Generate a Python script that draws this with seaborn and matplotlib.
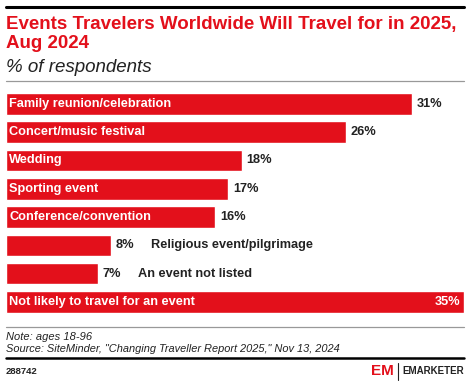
import pandas as pd
import matplotlib.pyplot as plt
import matplotlib.lines as mlines
import seaborn as sns

# Data
events = [
    "Family reunion/celebration",
    "Concert/music festival",
    "Wedding",
    "Sporting event",
    "Conference/convention",
    "Religious event/pilgrimage",
    "An event not listed",
    "Not likely to travel for an event",
]
shares = [31, 26, 18, 17, 16, 8, 7, 35]
# labels that sit outside the bar (bar too short)
outside = ["Religious event/pilgrimage", "An event not listed"]

RED = "#E3101B"

df = pd.DataFrame({"event": events, "share": shares})

sns.set_style("white")
plt.rcParams["font.family"] = ["Liberation Sans", "DejaVu Sans"]

fig = plt.figure(figsize=(4.7, 3.83), dpi=100)
W, H = 470, 383

def fx(x):
    return x / W

def fy(y):
    return 1 - y / H

ax = fig.add_axes([fx(6), fy(316), fx(464) - fx(6), fy(89.8) - fy(316)])
sns.barplot(data=df, x="share", y="event", orient="h", color=RED,
            width=0.76, saturation=1, ax=ax)
ax.set_xlim(0, 35)
ax.set_ylim(7.5, -0.5)
ax.axis("off")

FS = 9.2
for i, (name, val) in enumerate(zip(events, shares)):
    if name in outside:
        ax.text(val + 0.35, i, f"{val}%", va="center", ha="left",
                fontsize=FS, fontweight="bold", color="#222222")
        ax.text(val + 3.05, i, name, va="center", ha="left",
                fontsize=FS, fontweight="bold", color="#222222")
    elif val == max(shares):
        ax.text(0.25, i, name, va="center", ha="left",
                fontsize=FS, fontweight="bold", color="white")
        ax.text(val - 0.25, i, f"{val}%", va="center", ha="right",
                fontsize=FS, fontweight="bold", color="white")
    else:
        ax.text(0.25, i, name, va="center", ha="left",
                fontsize=FS, fontweight="bold", color="white")
        ax.text(val + 0.35, i, f"{val}%", va="center", ha="left",
                fontsize=FS, fontweight="bold", color="#222222")

# header
fig.add_artist(mlines.Line2D([fx(6), fx(464)], [fy(7), fy(7)], color="black", lw=2.2))
fig.text(fx(6), fy(25), "Events Travelers Worldwide Will Travel for in 2025,",
         color=RED, fontsize=13.5, fontweight="bold", va="center", ha="left")
fig.text(fx(6), fy(44), "Aug 2024",
         color=RED, fontsize=13.5, fontweight="bold", va="center", ha="left")
fig.text(fx(6), fy(67), "% of respondents",
         color="#222222", fontsize=13.5, style="italic", va="center", ha="left")
fig.add_artist(mlines.Line2D([fx(6), fx(464)], [fy(81), fy(81)], color="#999999", lw=0.9))

# footer
fig.add_artist(mlines.Line2D([fx(6), fx(464)], [fy(327), fy(327)], color="#999999", lw=0.9))
fig.text(fx(6), fy(337), "Note: ages 18-96", fontsize=8, style="italic",
         color="#222222", va="center", ha="left")
fig.text(fx(6), fy(349), 'Source: SiteMinder, "Changing Traveller Report 2025," Nov 13, 2024',
         fontsize=7.9, style="italic", color="#222222", va="center", ha="left")
fig.add_artist(mlines.Line2D([fx(6), fx(464)], [fy(358), fy(358)], color="black", lw=1.8))
fig.text(fx(6), fy(371), "288742", fontsize=6.8, fontweight="bold",
         color="#222222", va="center", ha="left")
fig.text(fx(394), fy(371), "EM", fontsize=11, fontweight="bold",
         color=RED, va="center", ha="right")
fig.add_artist(mlines.Line2D([fx(398), fx(398)], [fy(363), fy(380)], color="#222222", lw=0.8))
fig.text(fx(464), fy(371), "EMARKETER", fontsize=7.0, fontweight="bold",
         color="#222222", va="center", ha="right")

fig.savefig("out.png", dpi=100)
